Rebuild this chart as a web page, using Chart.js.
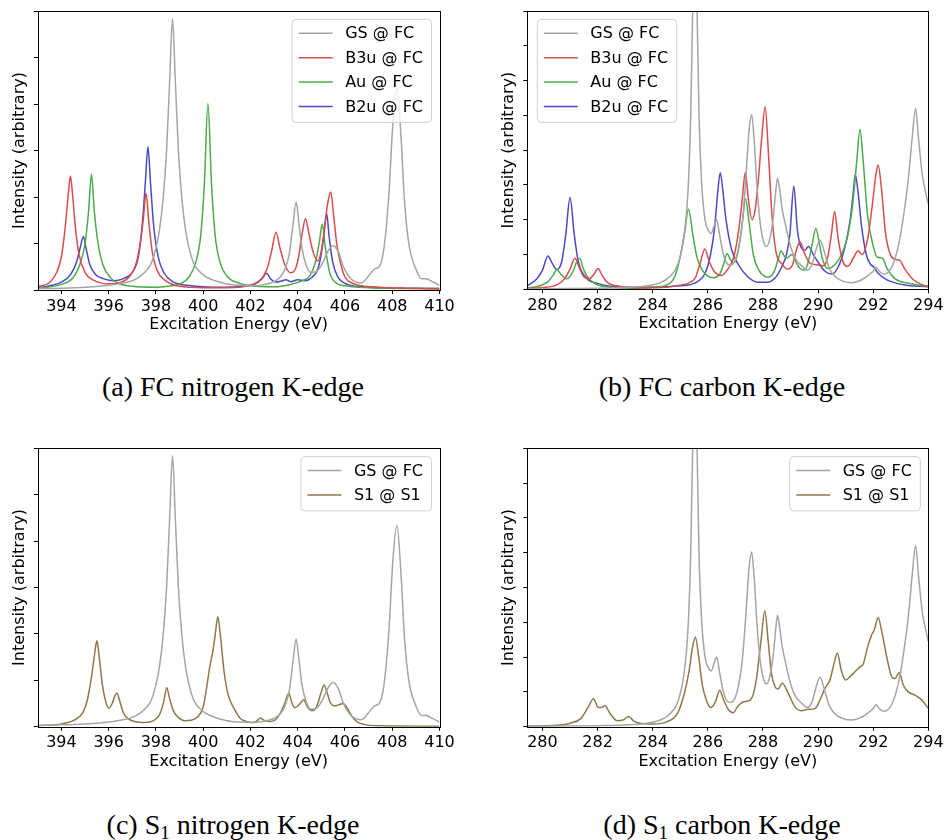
<!DOCTYPE html>
<html>
<head>
<meta charset="utf-8">
<script src="https://cdn.jsdelivr.net/npm/chart.js@4.4.1/dist/chart.umd.min.js"></script>
<style>
  html, body { margin: 0; padding: 0; background: #ffffff; }
  #page { position: relative; width: 947px; height: 840px; overflow: hidden; background: #ffffff; }
  #page canvas { position: absolute; }
  .cap {
    position: absolute; width: 460px; text-align: center; white-space: nowrap;
    font-family: "Liberation Serif", "Times New Roman", serif; font-size: 28px;
    line-height: 30px; color: #000;
  }
  .cap sub { font-size: 19px; line-height: 0; vertical-align: -5px; }
</style>
</head>
<body>
<div id="page">
  <canvas id="cA" width="470" height="345" style="left:0;top:0"></canvas>
  <canvas id="cB" width="477" height="345" style="left:470px;top:0"></canvas>
  <canvas id="cC" width="470" height="345" style="left:0;top:440px"></canvas>
  <canvas id="cD" width="477" height="345" style="left:470px;top:440px"></canvas>
  <div class="cap" style="left:3px;top:372px">(a) FC nitrogen K-edge</div>
  <div class="cap" style="left:492px;top:372px">(b) FC carbon K-edge</div>
  <div class="cap" style="left:3px;top:810px">(c) S<sub>1</sub> nitrogen K-edge</div>
  <div class="cap" style="left:492px;top:810px">(d) S<sub>1</sub> carbon K-edge</div>
</div>
<script>
// ---------- axis ticks ----------
const ticksN = [394, 396, 398, 400, 402, 404, 406, 408, 410];
const ticksC = [280, 282, 284, 286, 288, 290, 292, 294];
const yTicksN = [0, 1, 2, 3, 4, 5, 6];
const yTicksC = [0, 1, 2, 3, 4, 5, 6, 7, 8];

// ---------- nitrogen K-edge spectra: [energy eV, intensity] ----------
const gsN = [[393,0.03],[394,0.04],[395,0.06],[396,0.1],[396.5,0.14],[397,0.2],[397.3,0.28],[397.6,0.42],[397.8,0.57],[398.0,0.9],[398.15,1.3],[398.3,1.95],[398.45,3.0],[398.58,4.5],[398.7,5.84],[398.82,4.5],[398.95,3.0],[399.1,1.95],[399.25,1.3],[399.4,0.9],[399.6,0.57],[399.8,0.42],[400.1,0.29],[400.5,0.2],[401,0.13],[401.5,0.1],[402,0.09],[402.5,0.11],[403.0,0.18],[403.3,0.3],[403.5,0.5],[403.65,0.8],[403.8,1.4],[403.93,1.89],[404.05,1.45],[404.18,0.9],[404.35,0.55],[404.55,0.38],[404.8,0.4],[405.05,0.58],[405.3,0.85],[405.5,0.95],[405.72,0.82],[405.95,0.48],[406.3,0.22],[406.7,0.15],[407.0,0.3],[407.25,0.45],[407.45,0.5],[407.65,0.9],[407.85,2.0],[408.03,3.6],[408.2,4.34],[408.37,3.3],[408.52,1.9],[408.7,1.0],[409.0,0.45],[409.25,0.24],[409.45,0.24],[409.7,0.18],[410,0.1]];
const b3uN = [[393,0.07],[393.5,0.16],[393.8,0.38],[394.0,0.72],[394.15,1.3],[394.28,2.0],[394.38,2.45],[394.48,2.0],[394.6,1.3],[394.75,0.75],[395.0,0.38],[395.5,0.18],[396,0.13],[396.5,0.16],[396.9,0.3],[397.15,0.55],[397.32,0.95],[397.46,1.5],[397.58,2.08],[397.7,1.45],[397.85,0.8],[398.05,0.42],[398.4,0.2],[399,0.08],[400,0.05],[401,0.05],[402,0.1],[402.4,0.2],[402.7,0.45],[402.9,0.85],[403.08,1.24],[403.25,0.9],[403.45,0.55],[403.7,0.37],[403.9,0.45],[404.05,0.75],[404.2,1.25],[404.33,1.54],[404.46,1.25],[404.65,0.82],[404.85,0.62],[405.0,0.85],[405.15,1.4],[405.28,1.9],[405.4,2.11],[405.52,1.6],[405.65,1.0],[405.8,0.6],[406.0,0.28],[406.3,0.15],[406.7,0.09],[407.5,0.06],[408.5,0.04],[410,0.02]];
const auN = [[393,0.03],[394,0.12],[394.5,0.27],[394.8,0.58],[395.0,1.0],[395.15,1.7],[395.27,2.49],[395.39,1.7],[395.55,1.0],[395.75,0.55],[396.1,0.25],[396.5,0.13],[397,0.08],[398,0.06],[398.5,0.08],[399.0,0.13],[399.4,0.28],[399.7,0.62],[399.9,1.2],[400.05,2.3],[400.2,4.01],[400.35,2.3],[400.5,1.2],[400.7,0.62],[401.0,0.3],[401.5,0.15],[402,0.09],[403,0.07],[403.7,0.12],[404.2,0.2],[404.5,0.3],[404.75,0.6],[404.92,1.05],[405.04,1.42],[405.17,0.9],[405.35,0.38],[405.6,0.16],[406,0.09],[407,0.05],[410,0.03]];
const b2uN = [[393,0.05],[393.5,0.09],[394,0.17],[394.4,0.34],[394.65,0.62],[394.8,0.92],[394.93,1.15],[395.05,0.88],[395.2,0.55],[395.45,0.33],[395.8,0.24],[396.2,0.2],[396.6,0.24],[397.0,0.38],[397.25,0.7],[397.42,1.4],[397.55,2.3],[397.66,3.08],[397.77,2.3],[397.9,1.4],[398.1,0.7],[398.35,0.36],[398.7,0.18],[399.5,0.09],[400.5,0.06],[401.5,0.07],[402.2,0.14],[402.5,0.25],[402.68,0.36],[402.85,0.24],[403.05,0.17],[403.3,0.19],[403.5,0.22],[403.7,0.18],[404.0,0.22],[404.3,0.2],[404.6,0.27],[404.85,0.45],[405.0,0.78],[405.12,1.25],[405.22,1.65],[405.33,1.15],[405.48,0.6],[405.7,0.28],[406.1,0.12],[407,0.06],[410,0.03]];
const s1N = [[393,0.02],[394,0.06],[394.5,0.13],[394.9,0.3],[395.1,0.58],[395.28,1.1],[395.4,1.55],[395.5,1.85],[395.6,1.5],[395.72,0.95],[395.87,0.55],[396.0,0.4],[396.15,0.5],[396.25,0.65],[396.35,0.72],[396.47,0.55],[396.62,0.3],[396.8,0.18],[397.1,0.11],[397.5,0.09],[397.9,0.13],[398.15,0.26],[398.32,0.52],[398.46,0.84],[398.58,0.6],[398.75,0.33],[398.95,0.2],[399.2,0.13],[399.5,0.14],[399.8,0.23],[400.0,0.43],[400.15,0.86],[400.28,1.3],[400.4,1.6],[400.5,1.95],[400.62,2.37],[400.74,1.9],[400.88,1.2],[401.05,0.7],[401.3,0.4],[401.58,0.17],[401.86,0.11],[402.1,0.09],[402.28,0.13],[402.42,0.19],[402.56,0.14],[402.75,0.11],[403.0,0.13],[403.25,0.28],[403.45,0.5],[403.62,0.72],[403.75,0.52],[403.87,0.41],[403.97,0.43],[404.1,0.5],[404.25,0.58],[404.4,0.44],[404.55,0.35],[404.7,0.36],[404.85,0.5],[404.98,0.72],[405.12,0.9],[405.25,0.72],[405.4,0.5],[405.55,0.45],[405.73,0.47],[405.92,0.5],[406.1,0.4],[406.3,0.22],[406.5,0.11],[406.8,0.05],[407.5,0.02],[410,0.01]];

// ---------- carbon K-edge spectra: [energy eV, intensity] ----------
const gsC = [[279.45,0.01],[281,0.02],[282,0.03],[283,0.05],[283.8,0.1],[284.3,0.2],[284.6,0.35],[284.85,0.6],[285.0,0.95],[285.15,1.6],[285.28,2.8],[285.38,5.0],[285.45,8.0],[285.53,10.0],[285.61,8.0],[285.68,5.0],[285.78,3.0],[285.9,2.0],[286.05,1.65],[286.12,1.6],[286.22,1.8],[286.32,2.0],[286.42,1.6],[286.55,1.05],[286.72,0.72],[286.85,0.7],[287.0,0.85],[287.12,1.2],[287.25,1.9],[287.38,3.2],[287.5,4.6],[287.59,5.02],[287.68,4.3],[287.78,3.0],[287.9,1.9],[288.03,1.35],[288.13,1.23],[288.25,1.45],[288.38,2.1],[288.47,2.85],[288.53,3.2],[288.6,2.9],[288.7,2.3],[288.82,1.85],[288.98,1.3],[289.16,0.9],[289.4,0.68],[289.62,0.55],[289.78,0.72],[289.95,1.2],[290.07,1.42],[290.22,1.1],[290.4,0.62],[290.6,0.38],[290.85,0.25],[291.2,0.19],[291.55,0.26],[291.85,0.42],[292.0,0.52],[292.1,0.63],[292.22,0.52],[292.4,0.44],[292.55,0.5],[292.7,0.68],[292.9,1.2],[293.1,2.1],[293.28,3.2],[293.42,4.4],[293.54,5.2],[293.65,4.3],[293.78,3.3],[293.9,2.8],[294.0,2.45]];
const b3uC = [[279.45,0.02],[280.0,0.05],[280.5,0.12],[280.8,0.3],[281.0,0.58],[281.18,0.89],[281.35,0.6],[281.5,0.36],[281.7,0.3],[281.88,0.45],[282.02,0.6],[282.15,0.42],[282.35,0.2],[282.7,0.1],[283.5,0.04],[284.5,0.06],[285.0,0.12],[285.3,0.18],[285.55,0.34],[285.72,0.75],[285.89,1.16],[286.05,0.8],[286.25,0.5],[286.5,0.4],[286.7,0.55],[286.95,0.95],[287.12,1.7],[287.25,2.6],[287.36,3.36],[287.47,2.6],[287.6,2.0],[287.72,2.3],[287.85,3.3],[287.96,4.4],[288.08,5.25],[288.2,3.9],[288.33,2.1],[288.48,1.05],[288.68,0.74],[288.9,0.58],[289.08,0.72],[289.22,1.15],[289.35,1.37],[289.5,1.05],[289.7,0.76],[290.0,0.7],[290.2,0.68],[290.35,0.92],[290.48,1.55],[290.6,2.24],[290.73,1.45],[290.92,0.76],[291.08,0.66],[291.28,0.9],[291.45,1.11],[291.6,1.0],[291.8,1.45],[291.98,2.5],[292.1,3.3],[292.18,3.57],[292.3,2.9],[292.45,1.6],[292.62,1.0],[292.8,0.86],[292.95,0.84],[293.15,0.58],[293.45,0.28],[293.75,0.14],[294.0,0.08]];
const auC = [[279.45,0.03],[279.9,0.1],[280.2,0.22],[280.4,0.42],[280.52,0.57],[280.68,0.42],[280.88,0.3],[281.1,0.5],[281.25,0.8],[281.35,0.89],[281.48,0.6],[281.65,0.34],[282.0,0.13],[282.5,0.06],[283.2,0.03],[284.0,0.06],[284.5,0.12],[284.8,0.36],[285.0,0.94],[285.15,1.6],[285.3,2.3],[285.45,1.6],[285.6,0.94],[285.8,0.55],[286.0,0.38],[286.2,0.33],[286.42,0.42],[286.57,0.72],[286.7,1.03],[286.82,0.85],[286.95,0.76],[287.1,1.1],[287.25,1.9],[287.37,2.6],[287.5,1.9],[287.65,1.0],[287.85,0.55],[288.05,0.38],[288.2,0.35],[288.4,0.5],[288.55,0.85],[288.66,1.1],[288.78,0.95],[288.88,0.9],[289.0,0.98],[289.06,1.0],[289.2,0.78],[289.35,0.6],[289.52,0.55],[289.68,0.9],[289.8,1.35],[289.92,1.75],[290.03,1.4],[290.15,0.9],[290.35,0.6],[290.6,0.7],[290.85,1.0],[291.05,1.45],[291.25,2.4],[291.4,3.65],[291.52,4.6],[291.64,3.65],[291.8,2.1],[292.0,1.25],[292.15,0.92],[292.33,0.9],[292.5,0.6],[292.8,0.3],[293.4,0.16],[294.0,0.08]];
const b2uC = [[279.45,0.1],[279.8,0.3],[280.0,0.55],[280.2,0.96],[280.35,0.75],[280.52,0.57],[280.7,0.8],[280.85,1.6],[281.0,2.64],[281.15,1.6],[281.3,0.8],[281.6,0.32],[282.0,0.17],[283.0,0.06],[284.0,0.06],[285.0,0.1],[285.5,0.17],[285.9,0.46],[286.1,1.0],[286.25,1.8],[286.36,2.8],[286.45,3.35],[286.55,2.8],[286.66,2.0],[286.86,1.15],[287.1,0.72],[287.45,0.36],[287.83,0.2],[288.15,0.2],[288.45,0.33],[288.68,0.64],[288.86,1.02],[288.98,1.6],[289.12,2.97],[289.25,1.7],[289.4,1.18],[289.52,1.12],[289.65,1.23],[289.83,1.0],[290.0,0.78],[290.25,0.52],[290.5,0.44],[290.73,0.64],[290.97,1.2],[291.16,1.97],[291.28,2.8],[291.35,3.3],[291.45,2.8],[291.58,1.8],[291.75,1.0],[291.9,0.72],[292.02,0.64],[292.18,0.46],[292.5,0.27],[293.1,0.13],[294.0,0.07]];
const s1C = [[279.45,0.02],[280.5,0.04],[281.0,0.1],[281.4,0.24],[281.65,0.55],[281.85,0.8],[282.03,0.55],[282.13,0.55],[282.27,0.6],[282.45,0.38],[282.72,0.17],[282.95,0.2],[283.12,0.29],[283.32,0.16],[283.6,0.09],[284.0,0.08],[284.5,0.14],[284.9,0.38],[285.15,0.96],[285.32,1.6],[285.45,2.3],[285.55,2.57],[285.67,2.0],[285.8,1.2],[285.95,0.75],[286.1,0.55],[286.28,0.72],[286.43,1.05],[286.58,0.76],[286.74,0.5],[286.92,0.4],[287.1,0.6],[287.3,0.72],[287.55,0.77],[287.75,1.3],[287.92,2.4],[288.07,3.33],[288.19,2.45],[288.31,1.53],[288.44,1.15],[288.55,1.08],[288.7,1.25],[288.92,0.96],[289.16,0.57],[289.4,0.46],[289.64,0.5],[289.89,0.52],[290.07,0.77],[290.25,1.1],[290.43,1.34],[290.58,1.82],[290.7,2.11],[290.84,1.63],[291.0,1.34],[291.16,1.44],[291.34,1.58],[291.52,1.72],[291.64,1.8],[291.8,2.3],[291.94,2.63],[292.04,2.78],[292.18,3.14],[292.3,2.78],[292.49,2.01],[292.67,1.44],[292.79,1.38],[292.95,1.56],[293.09,1.2],[293.27,1.0],[293.51,0.91],[293.76,0.77],[294.0,0.53]];

// ---------- styling ----------
const COLORS = { gs: '#a5a5a5', b3u: '#da4b4b', au: '#4caa4c', b2u: '#4a4ac6', s1: '#917649' };
const FONT = '"DejaVu Sans", sans-serif';
const FSIZE = 16;

Chart.defaults.font.family = FONT;
Chart.defaults.color = '#000';

function series(label, pts, color) {
  return {
    label, data: pts.map(([x, y]) => ({ x, y })),
    borderColor: color, borderWidth: 1.5, pointRadius: 0,
    cubicInterpolationMode: 'monotone', fill: false
  };
}

// axes frame drawn on all four sides
const framePlugin = {
  id: 'frame',
  afterDatasetsDraw(chart) {
    const { ctx, chartArea: a } = chart;
    ctx.save();
    ctx.strokeStyle = '#000';
    ctx.lineWidth = 1;
    const l = Math.round(a.left) + 0.5, t = Math.round(a.top) + 0.5;
    ctx.strokeRect(l, t, Math.round(a.right) - Math.round(a.left), Math.round(a.bottom) - Math.round(a.top));
    ctx.restore();
  }
};

// framed legend box inside the axes
const boxLegend = {
  id: 'boxLegend',
  afterDraw(chart, args, opts) {
    const { ctx, chartArea: a } = chart;
    const items = chart.data.datasets;
    ctx.save();
    ctx.font = FSIZE + 'px ' + FONT;
    const tw = Math.max(...items.map(d => ctx.measureText(d.label).width));
    const w = 53 + tw + 8.5;
    const rowH = 24.4;
    const h = items.length * rowH + 5.5;
    const x = opts.side === 'left' ? a.left + 10 : a.right - 8 - w;
    const y = a.top + 8.3;
    const r = 4;
    ctx.beginPath();
    ctx.moveTo(x + r, y);
    ctx.arcTo(x + w, y, x + w, y + h, r);
    ctx.arcTo(x + w, y + h, x, y + h, r);
    ctx.arcTo(x, y + h, x, y, r);
    ctx.arcTo(x, y, x + w, y, r);
    ctx.closePath();
    ctx.fillStyle = 'rgba(255,255,255,0.8)';
    ctx.fill();
    ctx.strokeStyle = '#d0d0d0';
    ctx.lineWidth = 1;
    ctx.stroke();
    items.forEach((d, i) => {
      const cy = y + 14 + i * rowH;
      ctx.beginPath();
      ctx.strokeStyle = d.borderColor;
      ctx.lineWidth = 1.5;
      ctx.moveTo(x + 6.5, cy);
      ctx.lineTo(x + 40.5, cy);
      ctx.stroke();
      ctx.fillStyle = '#000';
      ctx.textBaseline = 'middle';
      ctx.fillText(d.label, x + 53, cy + 1);
    });
    ctx.restore();
  }
};

// panel geometry in page pixels
const panels = [
  { canvas: 'cA', left: 0,   top: 0,   w: 470, h: 345, plot: [37.8, 11, 439.5, 290],    yTitleX: 19.7,
    xRange: [393, 410], yMax: 6, xt: ticksN, yt: yTicksN, legend: 'right',
    sets: [series('GS @ FC', gsN, COLORS.gs), series('B3u @ FC', b3uN, COLORS.b3u), series('Au @ FC', auN, COLORS.au), series('B2u @ FC', b2uN, COLORS.b2u)] },
  { canvas: 'cB', left: 470, top: 0,   w: 477, h: 345, plot: [527.3, 11, 928.3, 289.3], yTitleX: 509,
    xRange: [279.45, 294], yMax: 8, xt: ticksC, yt: yTicksC, legend: 'left',
    sets: [series('GS @ FC', gsC, COLORS.gs), series('B3u @ FC', b3uC, COLORS.b3u), series('Au @ FC', auC, COLORS.au), series('B2u @ FC', b2uC, COLORS.b2u)] },
  { canvas: 'cC', left: 0,   top: 440, w: 470, h: 345, plot: [37.8, 448.3, 439.5, 726.7], yTitleX: 19.7,
    xRange: [393, 410], yMax: 6, xt: ticksN, yt: yTicksN, legend: 'right',
    sets: [series('GS @ FC', gsN, COLORS.gs), series('S1 @ S1', s1N, COLORS.s1)] },
  { canvas: 'cD', left: 470, top: 440, w: 477, h: 345, plot: [527.3, 448.3, 928.3, 726.7], yTitleX: 509,
    xRange: [279.45, 294], yMax: 8, xt: ticksC, yt: yTicksC, legend: 'right',
    sets: [series('GS @ FC', gsC, COLORS.gs), series('S1 @ S1', s1C, COLORS.s1)] }
];

const XAXIS_H = 50;
const HALF_LINE = FSIZE * 1.2 / 2;

panels.forEach(p => {
  const pl = p.plot[0] - p.left, pt = p.plot[1] - p.top;
  const pr = p.plot[2] - p.left, pb = p.plot[3] - p.top;
  const titleCx = p.yTitleX - p.left;
  const yAxisLeft = Math.max(0, titleCx - HALF_LINE - 10);
  const yTitlePad = titleCx - yAxisLeft - HALF_LINE;
  const fnt = { family: FONT, size: FSIZE };

  new Chart(document.getElementById(p.canvas), {
    type: 'line',
    data: { datasets: p.sets },
    plugins: [framePlugin, boxLegend],
    options: {
      responsive: false, animation: false, devicePixelRatio: 1,
      parsing: true, normalized: true,
      layout: { padding: { left: yAxisLeft, top: pt, right: p.w - pr, bottom: p.h - (pb + XAXIS_H) } },
      plugins: {
        legend: { display: false }, tooltip: { enabled: false },
        boxLegend: { side: p.legend }
      },
      scales: {
        x: {
          type: 'linear', min: p.xRange[0], max: p.xRange[1],
          afterBuildTicks: s => { s.ticks = p.xt.map(v => ({ value: v })); },
          afterFit: s => { s.height = XAXIS_H; },
          ticks: { font: fnt, color: '#000', padding: 3, maxRotation: 0, autoSkip: false, callback: v => String(v) },
          grid: { drawOnChartArea: false, drawTicks: true, tickLength: 4, color: '#000', tickWidth: 1 },
          border: { display: false },
          title: { display: true, text: 'Excitation Energy (eV)', font: fnt, color: '#000', padding: { top: 0, bottom: 5.4 } }
        },
        y: {
          type: 'linear', min: 0, max: p.yMax,
          afterBuildTicks: s => { s.ticks = p.yt.map(v => ({ value: v })); },
          afterFit: s => { s.width = pl - yAxisLeft; },
          ticks: { display: false },
          grid: { drawOnChartArea: false, drawTicks: true, tickLength: 4, color: '#000', tickWidth: 1 },
          border: { display: false },
          title: { display: true, text: 'Intensity (arbitrary)', font: fnt, color: '#000', padding: { top: yTitlePad, bottom: 0 } }
        }
      }
    }
  });
});
</script>
</body>
</html>
